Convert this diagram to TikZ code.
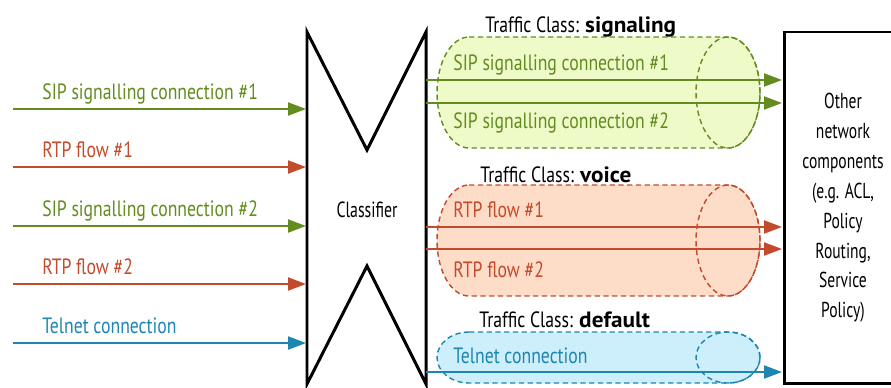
\documentclass[tikz,border=0pt]{standalone}
\usepackage{fontspec}
\setmainfont[FakeStretch=0.8, BoldFeatures={FakeStretch=1.05}]{PT Sans}
\newfontfamily\narrowfont[FakeStretch=0.72]{PT Sans}
\usetikzlibrary{arrows.meta}

\definecolor{sigln}{RGB}{98,140,30}
\definecolor{voiceln}{RGB}{196,74,44}
\definecolor{dfltln}{RGB}{30,132,176}
\definecolor{sigfl}{RGB}{238,251,200}
\definecolor{voicefl}{RGB}{253,220,200}
\definecolor{dfltfl}{RGB}{205,238,251}

\begin{document}
\begin{tikzpicture}[
        x=0.02cm, y=0.02cm,
        font=\fontsize{12.6}{15}\selectfont,
        flow/.style={line width=1.2pt, -{Triangle[length=0.36cm, width=0.26cm]}},
        lbl/.style={anchor=base west, inner sep=0pt},
        pipe/.style={dash pattern=on 3pt off 2pt, line width=0.8pt},
        heavy/.style={draw=black, line width=1.7pt}
    ]
        \clip (0,0) rectangle (891,387);

        % Traffic classes (cylinders)
        \foreach \yc/\ry/\fl/\ln in {294.5/55.5/sigfl/sigln, 146.5/55.5/voicefl/voiceln, 29.5/25.5/dfltfl/dfltln} {
            \filldraw[pipe, fill=\fl, draw=\ln] (469,\yc+\ry) -- (728,\yc+\ry)
                arc[start angle=90, end angle=-90, x radius=32, y radius=\ry]
                -- (469,\yc-\ry)
                arc[start angle=270, end angle=90, x radius=32, y radius=\ry] -- cycle;
            \draw[pipe, draw=\ln] (728,\yc) ellipse[x radius=32, y radius=\ry];
        }
        \node[lbl] (tcsig) at (485,355) {Traffic Class: \textbf{signaling}};
        \node[lbl] (tcvoice) at (480,205) {Traffic Class: \textbf{voice}};
        \node[lbl] (tcdflt) at (479,60) {Traffic Class: \textbf{default}};

        % Classifier
        \draw[heavy] (307,355) -- (367,237) -- (426,355) -- (426,3) -- (367,121) -- (307,3) -- cycle;
        \node[font=\narrowfont\fontsize{12.5}{15}\selectfont] (cls) at (367,177) {Classifier};

        % Other network components
        \draw[heavy] (784,355) rectangle (900,4);
        \node[align=center, font=\narrowfont\fontsize{12.3}{17}\selectfont] (other) at (843,179)
            {Other\\network\\components\\(e.g. ACL,\\Policy\\Routing,\\Service\\Policy)};

        % Incoming flows
        \foreach \y/\ln/\txt [count=\i] in {278/sigln/SIP signalling connection \#1, 220/voiceln/RTP flow \#1, 161/sigln/SIP signalling connection \#2, 103/voiceln/RTP flow \#2, 44/dfltln/Telnet connection} {
            \coordinate (in\i) at (13,\y);
            \coordinate (cl\i) at (306,\y);
            \draw[flow, \ln] (in\i) -- (cl\i);
            \node[lbl, text=\ln] (inlbl\i) at (42,\y+10) {\txt};
        }

        % Classified flows
        \foreach \y/\ln [count=\i] in {307/sigln, 284/sigln, 160/voiceln, 138/voiceln, 15/dfltln} {
            \coordinate (out\i) at (426,\y);
            \coordinate (oc\i) at (782,\y);
            \draw[flow, \ln] (out\i) -- (oc\i);
        }
        \foreach \y/\ln/\txt [count=\i] in {317/sigln/SIP signalling connection \#1, 259/sigln/SIP signalling connection \#2, 170/voiceln/RTP flow \#1, 110/voiceln/RTP flow \#2, 24/dfltln/Telnet connection} {
            \node[lbl, text=\ln] (outlbl\i) at (453,\y) {\txt};
        }
    \end{tikzpicture}
\end{document}
